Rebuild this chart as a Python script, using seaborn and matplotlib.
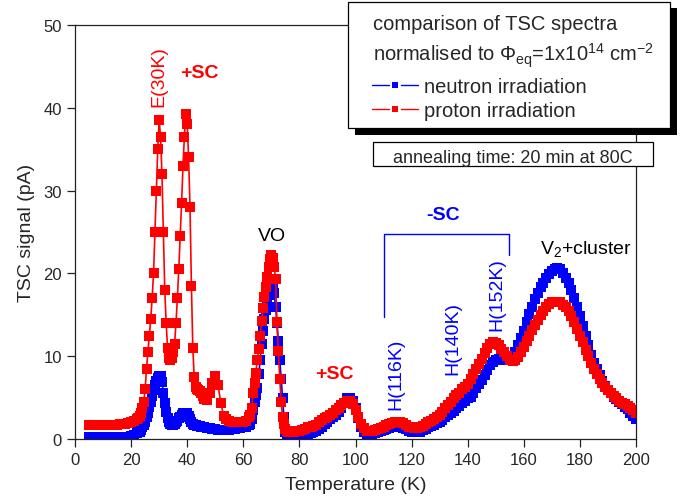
import numpy as np
import pandas as pd
import matplotlib
matplotlib.use("Agg")
import matplotlib.pyplot as plt
from matplotlib.patches import Rectangle
from matplotlib.lines import Line2D
import seaborn as sns

# temperature grid (K): finer steps around the sharp peaks
temp_low = list(range(5, 23))
temp_peaks = [22.5 + 0.5 * i for i in range(48)]
temp_mid = list(range(47, 63))
temp_vo = [62.5 + 0.5 * i for i in range(28)]
temp_high = list(range(77, 201))

# proton irradiation (pA)
proton_low = [1.7, 1.7, 1.7, 1.7, 1.7, 1.7, 1.7, 1.7, 1.7, 1.7, 1.75, 1.8, 1.8, 1.85, 1.9, 2.0, 2.2, 2.4]
proton_peaks = [2.5, 2.8, 3.2, 3.8, 4.5, 6.0, 8.5, 10.5, 12.5, 14.5, 17.0, 20.0, 25.0, 30.0, 35.0, 38.5,
                36.5, 32.0, 25.0, 18.0, 14.0, 11.0, 9.8, 9.5, 9.8, 10.5, 11.5, 14.0, 17.0, 20.5, 24.5, 28.5,
                33.0, 36.5, 39.3, 38.0, 34.0, 28.0, 18.5, 11.0, 7.5, 6.3, 6.0, 5.9, 5.8, 5.6, 5.2, 4.8]
proton_mid = [4.7, 5.5, 6.8, 7.6, 6.5, 4.3, 2.8, 2.4, 2.2, 2.1, 2.0, 2.0, 2.0, 2.0, 2.2, 2.6]
proton_vo = [2.9, 3.8, 5.5, 6.8, 8.0, 9.5, 10.9, 12.5, 14.2, 15.8, 17.2, 18.4, 19.6, 20.8, 21.7, 22.2,
             21.8, 20.8, 19.3, 14.1, 10.6, 7.3, 4.5, 2.7, 1.8, 1.2, 1.0, 0.9]
proton_high = [0.9, 0.9, 0.95, 1.0, 1.1, 1.25, 1.4, 1.5, 1.6, 1.75, 2.0, 2.3, 2.5, 2.7, 2.9, 3.2,
               3.5, 3.8, 4.1, 4.4, 4.6, 4.6, 4.2, 3.5, 2.6, 1.8, 1.3, 1.0, 0.95, 1.0, 1.1, 1.2,
               1.35, 1.5, 1.65, 1.8, 1.95, 2.05, 2.1, 2.05, 1.9, 1.7, 1.5, 1.4, 1.3, 1.3, 1.4, 1.6,
               1.8, 2.0, 2.2, 2.4, 2.6, 2.9, 3.3, 3.7, 4.1, 4.5, 5.0, 5.3, 5.6, 6.0, 6.3, 6.7,
               7.3, 7.9, 8.5, 9.1, 9.7, 10.4, 11.0, 11.5, 11.7, 11.6, 11.3, 10.9, 10.5, 10.0, 9.6, 9.4,
               9.5, 9.9, 10.5, 11.1, 11.8, 12.5, 13.2, 13.8, 14.4, 15.0, 15.5, 16.0, 16.3, 16.5, 16.6, 16.6,
               16.5, 16.2, 15.9, 15.4, 14.8, 14.1, 13.3, 12.5, 11.7, 10.8, 10.0, 9.2, 8.5, 7.9, 7.3, 6.8,
               6.3, 5.9, 5.5, 5.2, 4.9, 4.6, 4.4, 4.2, 4.0, 3.8, 3.5, 3.2]

# neutron irradiation (pA)
neutron_low = [0.3, 0.3, 0.3, 0.3, 0.3, 0.3, 0.3, 0.3, 0.3, 0.3, 0.3, 0.3, 0.3, 0.3, 0.3, 0.4, 0.5, 0.7]
neutron_peaks = [0.8, 0.9, 1.1, 1.4, 1.7, 2.1, 2.6, 3.2, 3.9, 4.5, 5.2, 5.9, 6.5, 7.0, 7.4, 7.6,
                 7.6, 6.9, 5.6, 4.3, 3.3, 2.5, 2.0, 1.8, 1.7, 1.7, 1.8, 2.0, 2.2, 2.5, 2.7, 2.9,
                 3.1, 3.2, 3.2, 3.1, 2.8, 2.4, 2.1, 1.8, 1.7, 1.7, 1.6, 1.6, 1.6, 1.5, 1.5, 1.4]
neutron_mid = [1.3, 1.3, 1.2, 1.2, 1.1, 1.1, 1.1, 1.1, 1.1, 1.2, 1.2, 1.3, 1.3, 1.4, 1.5, 1.7]
neutron_vo = [1.8, 2.4, 3.5, 4.5, 5.3, 6.2, 7.8, 9.5, 11.5, 13.0, 14.5, 15.6, 16.6, 17.4, 18.0, 18.4,
              18.3, 17.6, 16.0, 14.0, 11.8, 9.6, 7.3, 5.0, 2.6, 0.8, 0.45, 0.35]
neutron_high = [0.25, 0.2, 0.2, 0.2, 0.3, 0.4, 0.55, 0.7, 0.85, 1.0, 1.2, 1.5, 1.8, 2.1, 2.4, 2.6,
                2.9, 3.3, 3.8, 4.4, 4.9, 5.0, 4.6, 3.7, 2.5, 1.5, 0.9, 0.65, 0.6, 0.65, 0.75, 0.85,
                1.0, 1.1, 1.25, 1.35, 1.45, 1.5, 1.5, 1.45, 1.3, 1.15, 1.0, 0.85, 0.8, 0.8, 0.9, 1.05,
                1.2, 1.4, 1.6, 1.75, 1.9, 2.1, 2.35, 2.6, 2.9, 3.15, 3.4, 3.7, 4.0, 4.3, 4.6, 4.9,
                5.1, 5.6, 6.1, 6.6, 7.1, 7.7, 8.3, 8.9, 9.3, 9.6, 9.7, 9.7, 9.6, 9.5, 9.5, 9.8,
                10.5, 11.3, 12.2, 13.1, 14.1, 15.1, 16.0, 16.9, 17.6, 18.3, 18.9, 19.5, 19.9, 20.3, 20.5, 20.6,
                20.5, 20.1, 19.5, 18.8, 18.0, 17.0, 15.9, 14.8, 13.7, 12.5, 11.3, 10.2, 9.2, 8.4, 7.7, 7.0,
                6.4, 5.9, 5.5, 5.1, 4.8, 4.5, 4.2, 3.9, 3.6, 3.2, 2.8, 2.4]

temperature = temp_low + temp_peaks + temp_mid + temp_vo + temp_high
proton = proton_low + proton_peaks + proton_mid + proton_vo + proton_high
neutron = neutron_low + neutron_peaks + neutron_mid + neutron_vo + neutron_high

series_names = ["neutron irradiation", "proton irradiation"]
series_colors = {"neutron irradiation": "#0000ff", "proton irradiation": "#ff0000"}

df = pd.concat([
    pd.DataFrame({"T": temperature, "signal": neutron, "irradiation": series_names[0]}),
    pd.DataFrame({"T": temperature, "signal": proton, "irradiation": series_names[1]}),
])

sns.set_theme(style="ticks")
plt.rcParams["font.family"] = ["Liberation Sans", "DejaVu Sans"]
plt.rcParams["mathtext.fontset"] = "custom"
plt.rcParams["mathtext.rm"] = "Liberation Sans"
plt.rcParams["mathtext.default"] = "regular"

W, H = 682, 502
fig = plt.figure(figsize=(W / 100, H / 100), dpi=100)
ax = fig.add_axes([75 / W, 1 - 440 / H, (636 - 75) / W, (440 - 26) / H])

sns.lineplot(data=df, x="T", y="signal", hue="irradiation", hue_order=series_names,
             palette=series_colors, estimator=None, sort=False, legend=False,
             marker="s", markersize=6.6, markeredgewidth=0, linewidth=1.2, ax=ax)

ax.set_xlim(0, 200)
ax.set_ylim(0, 50)
ax.set_xticks(range(0, 201, 20))
ax.set_yticks(range(0, 51, 10))
ax.set_xlabel("Temperature (K)", fontsize=14, labelpad=6)
ax.set_ylabel("TSC signal (pA)", fontsize=14, labelpad=6)
ax.tick_params(axis="both", labelsize=12, length=6, width=0.9, color="#222222", direction="out")
for sp in ax.spines.values():
    sp.set_linewidth(0.9)
    sp.set_color("#222222")

# peak labels
ax.text(30.0, 43.9, "E(30K)", color="red", fontsize=14, rotation=90, ha="center", va="center")
ax.text(44.2, 44.3, "+SC", color="red", fontsize=14, fontweight="bold", ha="center", va="center")
ax.text(70.2, 24.6, "VO", color="black", fontsize=14, ha="center", va="center")
ax.text(92.5, 7.9, "+SC", color="red", fontsize=14, fontweight="bold", ha="center", va="center")
ax.text(131.2, 27.1, "-SC", color="blue", fontsize=14, fontweight="bold", ha="center", va="center")
ax.text(114.5, 7.9, "H(116K)", color="blue", fontsize=14, rotation=90, ha="center", va="center")
ax.text(134.8, 12.2, "H(140K)", color="blue", fontsize=14, rotation=90, ha="center", va="center")
ax.text(150.3, 17.6, "H(152K)", color="blue", fontsize=14, rotation=90, ha="center", va="center")
ax.text(182.1, 22.5, "V$_2$+cluster", color="black", fontsize=14, ha="center", va="baseline")

# bracket over the -SC hole traps
ax.plot([110.1, 110.1, 154.8, 154.8], [14.75, 24.7, 24.7, 22.2], color="blue", lw=1)


def fx(x):
    return x / W


def fy(y):
    return 1 - y / H


def box(x0, y0, x1, y1, **kw):
    r = Rectangle((fx(x0), fy(y1)), (x1 - x0) / W, (y1 - y0) / H,
                  transform=fig.transFigure, **kw)
    fig.add_artist(r)


# legend box with drop shadow
box(354.5, 9, 676.5, 135.5, facecolor="black", edgecolor="black", lw=0)
box(348.3, 2.7, 670, 129.3, facecolor="white", edgecolor="black", lw=0.9)
fig.text(fx(372.7), fy(30.5), "comparison of TSC spectra", fontsize=14.5, va="baseline")
fig.text(fx(372.7), fy(61.7), "normalised to Φ$_{eq}$=1x10$^{14}$ cm$^{-2}$", fontsize=14.5, va="baseline")
for name, yy, yb in [(series_names[0], 86, 92.7), (series_names[1], 110, 117.3)]:
    c = series_colors[name]
    fig.add_artist(Line2D([fx(372), fx(389)], [fy(yy)] * 2, color=c, lw=1, transform=fig.transFigure))
    fig.add_artist(Line2D([fx(401), fx(418)], [fy(yy)] * 2, color=c, lw=1, transform=fig.transFigure))
    fig.add_artist(Line2D([fx(395)], [fy(yy)], marker="s", ms=4, mew=0, color=c, transform=fig.transFigure))
    fig.text(fx(424), fy(yb), name, fontsize=14.5, va="baseline")

# annealing info box
box(372.7, 142.7, 653.3, 166.7, facecolor="white", edgecolor="black", lw=0.9)
fig.text(fx(513), fy(163.5), "annealing time: 20 min at 80C", fontsize=13, ha="center", va="baseline")

fig.savefig("out.png", dpi=100)
